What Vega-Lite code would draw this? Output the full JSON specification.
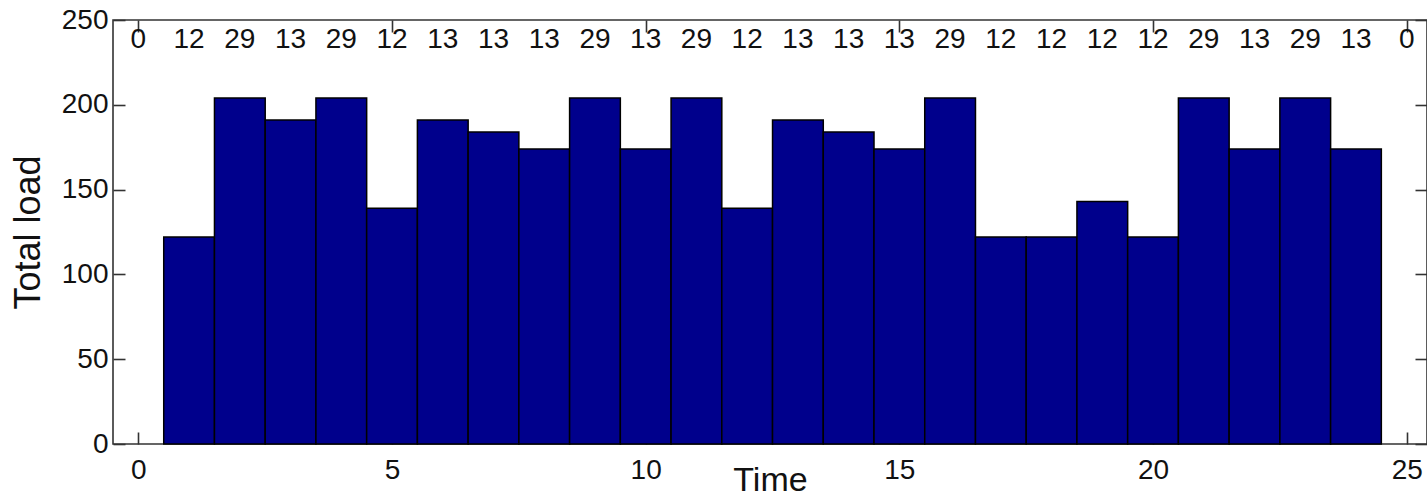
{
  "$schema": "https://vega.github.io/schema/vega-lite/v6.json",
  "width": 1314,
  "height": 424,
  "autosize": {"type": "none"},
  "padding": {"left": 113, "top": 20, "right": 0, "bottom": 55},
  "background": "white",
  "config": {
    "view": {"stroke": "#333333", "strokeWidth": 1.6},
    "font": "Liberation Sans",
    "axis": {"grid": false, "domain": false, "labelFont": "Liberation Sans", "titleFont": "Liberation Sans", "labelColor": "#111111", "titleColor": "#111111", "tickColor": "#333333", "tickWidth": 1.6, "titleFontWeight": "normal"}
  },
  "data": {
    "values": [
      {"t": 0, "n": "0", "load": 0},
      {"t": 1, "n": "12", "load": 122},
      {"t": 2, "n": "29", "load": 204},
      {"t": 3, "n": "13", "load": 191},
      {"t": 4, "n": "29", "load": 204},
      {"t": 5, "n": "12", "load": 139},
      {"t": 6, "n": "13", "load": 191},
      {"t": 7, "n": "13", "load": 184},
      {"t": 8, "n": "13", "load": 174},
      {"t": 9, "n": "29", "load": 204},
      {"t": 10, "n": "13", "load": 174},
      {"t": 11, "n": "29", "load": 204},
      {"t": 12, "n": "12", "load": 139},
      {"t": 13, "n": "13", "load": 191},
      {"t": 14, "n": "13", "load": 184},
      {"t": 15, "n": "13", "load": 174},
      {"t": 16, "n": "29", "load": 204},
      {"t": 17, "n": "12", "load": 122},
      {"t": 18, "n": "12", "load": 122},
      {"t": 19, "n": "12", "load": 143},
      {"t": 20, "n": "12", "load": 122},
      {"t": 21, "n": "29", "load": 204},
      {"t": 22, "n": "13", "load": 174},
      {"t": 23, "n": "29", "load": 204},
      {"t": 24, "n": "13", "load": 174},
      {"t": 25, "n": "0", "load": 0}
    ]
  },
  "layer": [
    {
      "transform": [{"filter": "datum.load > 0"}],
      "mark": {"type": "bar", "size": 50.74, "fill": "#00008C", "stroke": "#000000", "strokeWidth": 1.5},
      "encoding": {
        "x": {"field": "t", "type": "quantitative", "scale": {"domain": [-0.5, 25.4], "nice": false, "zero": false, "padding": 0},
          "axis": {"orient": "bottom", "values": [0, 5, 10, 15, 20, 25], "tickSize": -12, "labelPadding": 24, "labelFontSize": 28, "title": "Time", "titleFontSize": 34, "titlePadding": -21, "format": "d"}},
        "y": {"field": "load", "type": "quantitative", "scale": {"domain": [0, 250], "nice": false},
          "axis": {"orient": "left", "values": [0, 50, 100, 150, 200, 250], "tickSize": -12, "labelPadding": 17, "labelFontSize": 28, "title": "Total load", "titleFontSize": 36, "titlePadding": 14}}
      }
    },
    {
      "mark": {"type": "text", "fontSize": 28, "baseline": "middle", "align": "center", "color": "#111111"},
      "encoding": {
        "x": {"field": "t", "type": "quantitative",
          "axis": {"orient": "top", "values": [0, 5, 10, 15, 20, 25], "tickSize": -12, "labels": false, "title": null}},
        "y": {"datum": 238, "type": "quantitative",
          "axis": {"orient": "right", "values": [0, 50, 100, 150, 200, 250], "tickSize": -12, "labels": false, "title": null}},
        "text": {"field": "n"}
      }
    }
  ],
  "resolve": {"axis": {"x": "independent", "y": "independent"}}
}
